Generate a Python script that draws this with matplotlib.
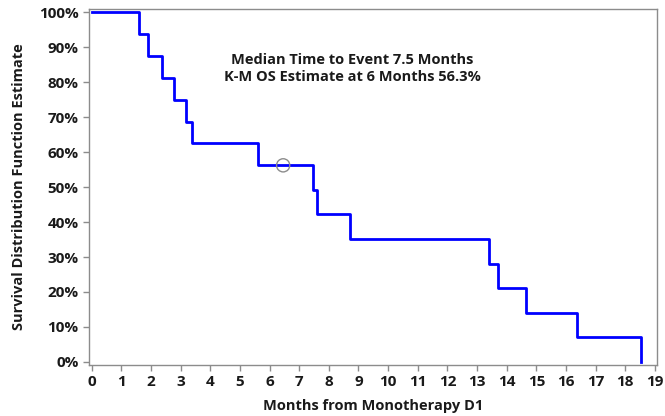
import matplotlib
matplotlib.use("Agg")
import matplotlib.pyplot as plt
import numpy as np
from matplotlib.ticker import PercentFormatter

# Kaplan-Meier step curve (event times in months, survival in %)
event_months = [0.0, 1.61, 1.90, 2.38, 2.79, 3.18, 3.37, 5.62, 7.47, 7.60, 8.72,
                13.39, 13.71, 14.65, 16.38, 18.53]
survival_pct = [100.0, 93.75, 87.5, 81.25, 75.0, 68.75, 62.5, 56.25, 49.22, 42.19,
                35.16, 28.13, 21.09, 14.06, 7.03, 0.0]
censor_months = [6.46]
censor_pct = [56.25]

x_ticks = list(range(0, 20))
y_ticks = list(range(0, 101, 10))

annotation = "Median Time to Event 7.5 Months\nK-M OS Estimate at 6 Months 56.3%"

plt.rcParams["font.family"] = ["Open Sans", "DejaVu Sans"]

fig = plt.figure(figsize=(6.65, 4.16), dpi=100)
ax = fig.add_axes([0.1338, 0.1226, 0.8542, 0.8558])

ax.step(event_months, survival_pct, where="post", color="#0000ff", lw=2.0)
ax.scatter(censor_months, censor_pct, s=90, facecolors="none", edgecolors="#8c8c8c",
           linewidths=1.0, zorder=3)

ax.set_xlim(-0.09, 19.07)
ax.set_ylim(-0.9, 101.0)
ax.set_xticks(x_ticks)
ax.set_yticks(y_ticks)
ax.yaxis.set_major_formatter(PercentFormatter(decimals=0))

for s in ax.spines.values():
    s.set_color("#8c8c8c")
    s.set_linewidth(1.0)
ax.tick_params(axis="both", colors="#8c8c8c", length=4, width=1.0, labelcolor="#1a1a1a",
               labelsize=11)
for lab in ax.get_xticklabels() + ax.get_yticklabels():
    lab.set_fontweight("bold")

ax.set_xlabel("Months from Monotherapy D1", fontsize=10.5, fontweight="bold",
              color="#1a1a1a", labelpad=7)
ax.set_ylabel("Survival Distribution Function Estimate", fontsize=10.5,
              fontweight="bold", color="#1a1a1a", labelpad=9)

ax.text(0.463, 0.833, annotation, transform=ax.transAxes, ha="center", va="center",
        fontsize=10.5, fontweight="bold", color="#1a1a1a", linespacing=1.2)

fig.savefig("out.png", dpi=100)
